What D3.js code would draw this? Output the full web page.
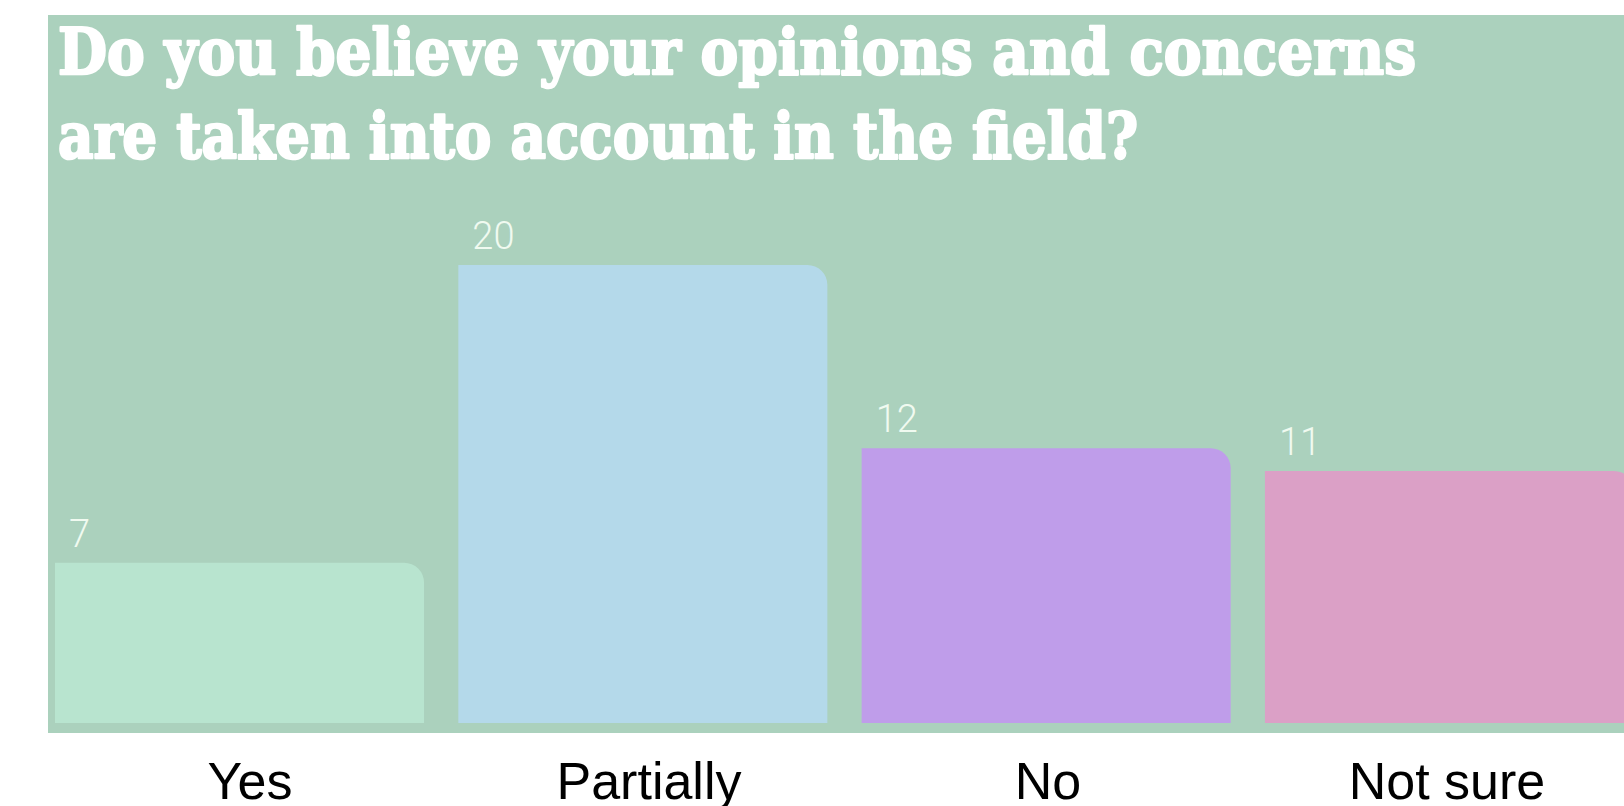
<!DOCTYPE html>
<html lang="en">
<head>
    <meta charset="UTF-8">
    <title>Opinions taken into account</title>
    <script src="https://d3js.org/d3.v7.min.js"></script>
    <style>
        body { margin: 0; background: #ffffff; }
        .title { font-family: "DejaVu Serif", serif; font-weight: bold; fill: #ffffff; stroke: #ffffff; stroke-width: 2.5; stroke-linejoin: round; }
        .value { font-family: "Roboto", "Liberation Sans", sans-serif; font-weight: 300; fill: #f0faf0; }
        .cat { font-family: "Liberation Sans", Arial, sans-serif; fill: #000000; }
    </style>
</head>
<body>
    <svg width="1624" height="806"></svg>
    <script>
        // data
        const categories = ["Yes", "Partially", "No", "Not sure"];
        const counts = [7, 20, 12, 11];
        const barColors = ["#b8e4cf", "#b4d9ea", "#bf9dea", "#dba0c6"];
        const titleLines = [
            "Do you believe your opinions and concerns",
            "are taken into account in the field?"
        ];

        const svg = d3.select("svg");

        // green panel
        svg.append("rect")
            .attr("x", 48).attr("y", 15)
            .attr("width", 1624 - 48).attr("height", 733 - 15)
            .attr("fill", "#abd1bd");

        // title
        const titleWidths = [1358, 1080];
        titleLines.forEach((t, i) => {
            svg.append("text")
                .attr("class", "title")
                .attr("x", 58)
                .attr("y", 74 + i * 84)
                .attr("font-size", 64)
                .attr("textLength", titleWidths[i])
                .attr("lengthAdjust", "spacingAndGlyphs")
                .text(t);
        });

        const x = d3.scaleBand()
            .domain(categories)
            .range([55, 1634])
            .paddingInner(0.085)
            .paddingOuter(0)
            .align(0);

        const y = d3.scaleLinear().domain([0, 20]).range([723, 265]);

        // category labels sit on their own, slightly narrower spacing
        const xLabel = d3.scalePoint().domain(categories).range([250, 1447]);

        const r = 20;
        // bar with only the top-right corner rounded
        function barPath(x0, y0, w, h) {
            return `M${x0},${y0 + h}V${y0}H${x0 + w - r}` +
                `A${r},${r} 0 0 1 ${x0 + w},${y0 + r}V${y0 + h}Z`;
        }

        const data = categories.map((c, i) => ({ cat: c, value: counts[i], color: barColors[i] }));

        svg.selectAll(".bar")
            .data(data)
            .join("path")
            .attr("class", "bar")
            .attr("fill", d => d.color)
            .attr("d", d => barPath(x(d.cat), y(d.value), x.bandwidth(), y(0) - y(d.value)));

        svg.selectAll(".value")
            .data(data)
            .join("text")
            .attr("class", "value")
            .attr("x", d => x(d.cat) + 14)
            .attr("y", d => y(d.value) - 16)
            .attr("font-size", 38)
            .text(d => d.value);

        svg.selectAll(".cat")
            .data(data)
            .join("text")
            .attr("class", "cat")
            .attr("x", d => xLabel(d.cat))
            .attr("y", 799)
            .attr("text-anchor", "middle")
            .attr("font-size", 52)
            .text(d => d.cat);
    </script>
</body>
</html>
